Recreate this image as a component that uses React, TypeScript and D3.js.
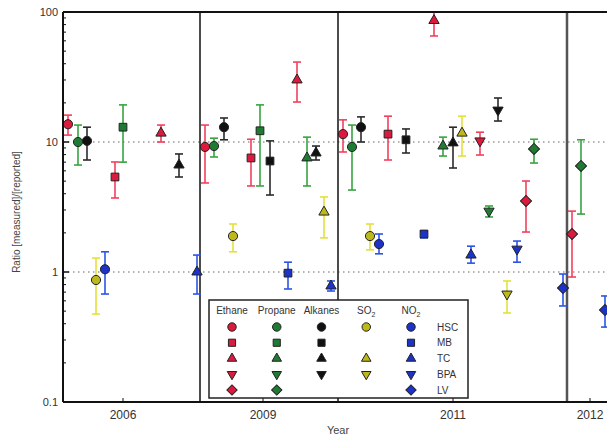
import React, { useEffect, useRef } from 'react';
import * as d3 from 'd3';

// species (columns of the legend) and sites (rows)
const species = ['Ethane', 'Propane', 'Alkanes', 'SO2', 'NO2'];
const speciesMain = ['Ethane', 'Propane', 'Alkanes', 'SO', 'NO'];
const speciesSub = ['', '', '', '2', '2'];
const markerFill = ['#dc1a3e', '#1f7a34', '#111111', '#bdb81c', '#1c32c8'];
const barColor = ['#f2405e', '#38a440', '#2b2b2b', '#e4e03c', '#2c54e8'];
const sites = ['HSC', 'MB', 'TC', 'BPA', 'LV'];
const legendSites: Record<string, string[]> = {
  Ethane: ['HSC', 'MB', 'TC', 'BPA', 'LV'],
  Propane: ['HSC', 'MB', 'TC', 'BPA', 'LV'],
  Alkanes: ['HSC', 'MB', 'TC', 'BPA'],
  SO2: ['HSC', 'TC', 'BPA'],
  NO2: ['HSC', 'MB', 'TC', 'BPA', 'LV'],
};

// campaign years, label position and campaign boundaries (position units)
const yearLabels = ['2006', '2009', '2011', '2012'];
const yearLabelPos = [6.0, 20.0, 39.0, 52.7];
const boundaries = [13.7, 27.5, 50.4];
const yTicks = [0.1, 1, 10, 100];
const refLines = [1, 10];

// [species, site, position, ratio, low, high]
const points2006: [string, string, number, number, number, number][] = [
  ['Ethane', 'HSC', 0.5, 13.7, 11.3, 16.1],
  ['Propane', 'HSC', 1.5, 10.0, 6.65, 13.5],
  ['Alkanes', 'HSC', 2.4, 10.2, 7.27, 13.0],
  ['SO2', 'HSC', 3.3, 0.868, 0.475, 1.28],
  ['NO2', 'HSC', 4.2, 1.05, 0.677, 1.43],
  ['Ethane', 'MB', 5.2, 5.38, 3.71, 7.02],
  ['Propane', 'MB', 6.0, 13.0, 7.0, 19.3],
  ['Ethane', 'TC', 9.8, 11.7, 10.0, 13.5],
  ['Alkanes', 'TC', 11.6, 6.65, 5.38, 8.09],
  ['NO2', 'TC', 13.4, 1.0, 0.677, 1.35],
];
const points2009: [string, string, number, number, number, number][] = [
  ['Ethane', 'HSC', 14.2, 9.16, 4.84, 13.5],
  ['Propane', 'HSC', 15.1, 9.31, 7.67, 10.7],
  ['Alkanes', 'HSC', 16.1, 13.0, 10.4, 15.3],
  ['SO2', 'HSC', 17.0, 1.89, 1.43, 2.34],
  ['Ethane', 'MB', 18.8, 7.54, 4.59, 10.5],
  ['Propane', 'MB', 19.7, 12.2, 4.59, 19.3],
  ['Alkanes', 'MB', 20.7, 7.14, 3.91, 10.2],
  ['NO2', 'MB', 22.5, 0.98, 0.74, 1.19],
  ['Ethane', 'TC', 23.4, 30.0, 20.3, 41.2],
  ['Propane', 'TC', 24.4, 7.54, 4.59, 10.9],
  ['Alkanes', 'TC', 25.3, 8.23, 7.27, 9.31],
  ['SO2', 'TC', 26.1, 2.89, 1.83, 3.78],
  ['NO2', 'TC', 26.8, 0.78, 0.714, 0.853],
];
const points2011: [string, string, number, number, number, number][] = [
  ['Ethane', 'HSC', 28.0, 11.5, 8.38, 14.8],
  ['Propane', 'HSC', 28.9, 9.16, 4.27, 13.5],
  ['Alkanes', 'HSC', 29.8, 13.0, 10.0, 15.6],
  ['SO2', 'HSC', 30.7, 1.89, 1.48, 2.34],
  ['NO2', 'HSC', 31.6, 1.64, 1.38, 1.96],
  ['Ethane', 'MB', 32.5, 11.5, 7.27, 15.8],
  ['Alkanes', 'MB', 34.3, 10.4, 8.23, 12.6],
  ['NO2', 'MB', 36.1, 1.96, 1.83, 2.07],
  ['Ethane', 'TC', 37.1, 86.0, 65.4, 130],
  ['Propane', 'TC', 38.0, 9.31, 7.8, 10.9],
  ['Alkanes', 'TC', 39.0, 9.84, 6.31, 13.0],
  ['SO2', 'TC', 39.9, 11.7, 7.8, 15.8],
  ['NO2', 'TC', 40.8, 1.35, 1.17, 1.58],
  ['Ethane', 'BPA', 41.7, 10.2, 7.94, 11.9],
  ['Propane', 'BPA', 42.6, 2.94, 2.65, 3.22],
  ['Alkanes', 'BPA', 43.5, 17.6, 14.5, 21.8],
  ['SO2', 'BPA', 44.4, 0.677, 0.484, 0.853],
  ['NO2', 'BPA', 45.4, 1.5, 1.19, 1.73],
  ['Ethane', 'LV', 46.3, 3.52, 2.03, 5.01],
  ['Propane', 'LV', 47.1, 8.84, 6.89, 10.5],
  ['NO2', 'LV', 50.0, 0.753, 0.548, 0.965],
];
const points2012: [string, string, number, number, number, number][] = [
  ['Ethane', 'LV', 50.9, 1.96, 0.915, 2.94],
  ['Propane', 'LV', 51.8, 6.54, 2.79, 10.4],
  ['NO2', 'LV', 54.2, 0.51, 0.377, 0.654],
];

const symbolFor = (site: string) => {
  if (site === 'HSC') return d3.symbolCircle;
  if (site === 'MB' || site === 'LV') return d3.symbolSquare;
  return d3.symbolTriangle;
};
const sizeFor = (site: string, k: number) =>
  (site === 'HSC' ? 66 : site === 'MB' ? 60 : site === 'LV' ? 62 : 46) * k;
const rotFor = (site: string) => (site === 'BPA' ? ' rotate(180)' : site === 'LV' ? ' rotate(45)' : '');

export default function App() {
  const ref = useRef<SVGSVGElement>(null);

  useEffect(() => {
    const W = 607;
    const margin = { top: 12, left: 63, bottom: 402 };
    const svg = d3.select(ref.current);
    svg.selectAll('*').remove();

    const x = d3.scaleLinear().domain([0, 58]).range([margin.left, margin.left + 580]);
    const y = d3.scaleLog().domain([0.1, 100]).range([margin.bottom, margin.top]);
    const font = 'Liberation Sans, Arial, sans-serif';

    svg.append('defs').append('clipPath').attr('id', 'plotclip')
      .append('rect').attr('x', margin.left).attr('y', margin.top)
      .attr('width', W).attr('height', margin.bottom - margin.top);

    // dotted reference lines
    svg.selectAll('.ref').data(refLines).join('line')
      .attr('x1', margin.left).attr('x2', W)
      .attr('y1', d => y(d)).attr('y2', d => y(d))
      .attr('stroke', '#666').attr('stroke-width', 1.2).attr('stroke-dasharray', '1.5,3.5');

    // campaign boundaries
    svg.selectAll('.bnd').data(boundaries).join('line')
      .attr('x1', d => x(d)).attr('x2', d => x(d))
      .attr('y1', margin.top).attr('y2', margin.bottom)
      .attr('stroke', (d, i) => (i === 2 ? '#555' : '#111'))
      .attr('stroke-width', (d, i) => (i === 2 ? 2.5 : 1.5));

    // data
    const all = [...points2006, ...points2009, ...points2011, ...points2012];
    const dataG = svg.append('g').attr('clip-path', 'url(#plotclip)');
    all.forEach(([sp, site, pos, v, lo, hi]) => {
      const si = species.indexOf(sp);
      const px = x(pos);
      const g = dataG.append('g');
      g.append('line').attr('x1', px).attr('x2', px).attr('y1', y(lo)).attr('y2', y(hi))
        .attr('stroke', barColor[si]).attr('stroke-width', 1.6);
      [lo, hi].forEach(e => {
        g.append('line').attr('x1', px - 4).attr('x2', px + 4).attr('y1', y(e)).attr('y2', y(e))
          .attr('stroke', barColor[si]).attr('stroke-width', 1.6);
      });
      g.append('path')
        .attr('d', d3.symbol().type(symbolFor(site)).size(sizeFor(site, 1))())
        .attr('transform', `translate(${px},${y(v)})${rotFor(site)}`)
        .attr('fill', markerFill[si]).attr('stroke', '#222').attr('stroke-width', 1);
    });

    // frame
    svg.append('line').attr('x1', margin.left).attr('x2', W).attr('y1', margin.top).attr('y2', margin.top)
      .attr('stroke', '#111').attr('stroke-width', 2);
    svg.append('line').attr('x1', margin.left).attr('x2', W).attr('y1', margin.bottom).attr('y2', margin.bottom)
      .attr('stroke', '#111').attr('stroke-width', 2);
    svg.append('line').attr('x1', margin.left).attr('x2', margin.left).attr('y1', margin.top).attr('y2', margin.bottom)
      .attr('stroke', '#111').attr('stroke-width', 2);

    // y ticks: majors and minors, inward
    const minors: number[] = [];
    [0.1, 1, 10].forEach(dec => { for (let k = 2; k <= 9; k++) minors.push(dec * k); });
    svg.selectAll('.minor').data(minors).join('line')
      .attr('x1', margin.left).attr('x2', margin.left + 3)
      .attr('y1', d => y(d)).attr('y2', d => y(d))
      .attr('stroke', '#111').attr('stroke-width', 1);
    svg.selectAll('.major').data(yTicks).join('line')
      .attr('x1', margin.left).attr('x2', margin.left + 6)
      .attr('y1', d => y(d)).attr('y2', d => y(d))
      .attr('stroke', '#111').attr('stroke-width', 1.5);
    svg.selectAll('.ylab').data(yTicks).join('text')
      .attr('x', margin.left - 5).attr('y', d => y(d)).attr('dy', '0.35em')
      .attr('text-anchor', 'end').attr('font-family', font).attr('font-size', 11).attr('fill', '#333')
      .text(d => String(d));

    // x ticks and labels
    svg.selectAll('.xtick').data(yearLabelPos).join('line')
      .attr('x1', d => x(d)).attr('x2', d => x(d))
      .attr('y1', margin.bottom).attr('y2', margin.bottom - 4)
      .attr('stroke', '#111').attr('stroke-width', 1);
    svg.selectAll('.xlab').data(yearLabels).join('text')
      .attr('x', (d, i) => x(yearLabelPos[i])).attr('y', margin.bottom + 17)
      .attr('text-anchor', 'middle').attr('font-family', font).attr('font-size', 12).attr('fill', '#333')
      .text(d => d);

    svg.append('text').attr('x', 338).attr('y', 434).attr('text-anchor', 'middle')
      .attr('font-family', font).attr('font-size', 11).attr('fill', '#444').text('Year');
    svg.append('text').attr('transform', `translate(20,${(margin.top + margin.bottom) / 2 + 5}) rotate(-90)`)
      .attr('text-anchor', 'middle').attr('font-family', font).attr('font-size', 10).attr('fill', '#444')
      .text('Ratio [measured]/[reported]');

    // legend
    const lg = svg.append('g');
    lg.append('rect').attr('x', 209).attr('y', 300).attr('width', 259).attr('height', 98)
      .attr('fill', 'white').attr('stroke', '#222').attr('stroke-width', 1.5);
    const colX = d3.scalePoint().domain(species).range([232, 411]);
    const rowY = d3.scalePoint().domain(sites).range([327, 390]);
    species.forEach((sp, i) => {
      const t = lg.append('text').attr('x', colX(sp)!).attr('y', 314).attr('text-anchor', 'middle')
        .attr('font-family', font).attr('font-size', 10).attr('fill', '#333');
      t.append('tspan').text(speciesMain[i]);
      if (speciesSub[i]) t.append('tspan').attr('font-size', 7).attr('dy', 3).text(speciesSub[i]);
      legendSites[sp].forEach(site => {
        lg.append('path')
          .attr('d', d3.symbol().type(symbolFor(site)).size(sizeFor(site, 0.85))())
          .attr('transform', `translate(${colX(sp)},${rowY(site)})${rotFor(site)}`)
          .attr('fill', markerFill[i]).attr('stroke', '#222').attr('stroke-width', 1);
      });
    });
    sites.forEach(site => {
      lg.append('text').attr('x', 437).attr('y', rowY(site)!).attr('dy', '0.35em')
        .attr('font-family', font).attr('font-size', 10).attr('fill', '#333').text(site);
    });
  }, []);

  return (
    <svg ref={ref} width={607} height={439}
      style={{ position: 'absolute', left: 0, top: 0, background: 'white' }} />
  );
}
